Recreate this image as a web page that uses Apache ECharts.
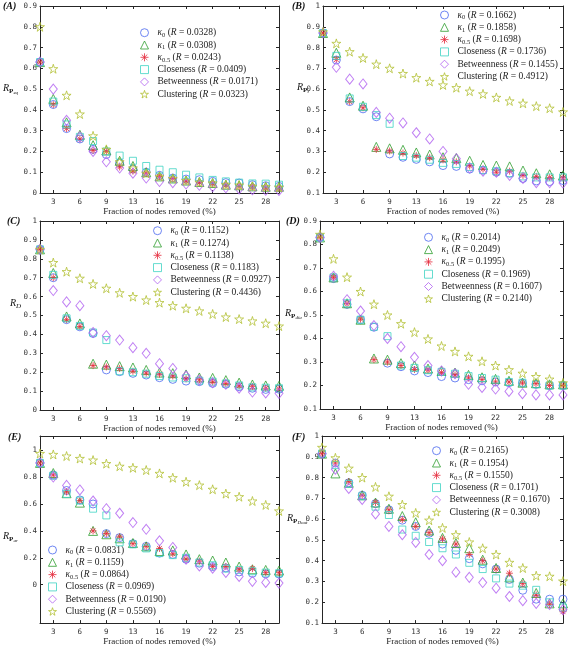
<!DOCTYPE html>
<html><head><meta charset="utf-8">
<script src="https://cdn.jsdelivr.net/npm/echarts@6/dist/echarts.min.js"></script>
<style>html,body{margin:0;padding:0;background:#fff}#c{width:568px;height:647px}</style>
</head><body><div id="c"></div>
<script>
// ---- data ----
const xFractions = [1.58, 3.16, 4.74, 6.32, 7.89, 9.47, 11.05, 12.63, 14.21, 15.79, 17.37, 18.95, 20.53, 22.11, 23.68, 25.26, 26.84, 28.42, 30.00];
const xTickValues = [3.16, 6.32, 9.47, 12.63, 15.79, 18.95, 22.11, 25.26, 28.42];
const xTickLabels = ['3', '6', '9', '13', '16', '19', '22', '25', '28'];

const seriesKeys = ['k0', 'k1', 'k05', 'clo', 'btw', 'clu'];

// Panel A
const A_k0  = [0.63,0.426,0.31,0.26,0.21,0.185,0.145,0.115,0.10,0.085,0.072,0.067,0.064,0.056,0.05,0.048,0.04,0.035,0.032];
const A_k1  = [0.63,0.453,0.34,0.28,0.23,0.205,0.155,0.13,0.10,0.08,0.07,0.06,0.053,0.048,0.04,0.037,0.032,0.03,0.03];
const A_k05 = [0.63,0.425,0.31,0.26,0.205,0.20,0.125,0.105,0.095,0.08,0.07,0.057,0.05,0.045,0.038,0.032,0.03,0.025,0.022];
const A_clo = [0.63,0.44,0.33,0.27,0.25,0.20,0.18,0.155,0.13,0.112,0.10,0.088,0.075,0.063,0.056,0.05,0.046,0.045,0.04];
const A_btw = [0.63,0.50,0.35,0.27,0.20,0.15,0.12,0.095,0.072,0.055,0.05,0.043,0.037,0.03,0.025,0.02,0.016,0.013,0.012];
const A_clu = [0.80,0.598,0.47,0.38,0.275,0.21,0.15,0.12,0.095,0.08,0.07,0.06,0.052,0.048,0.04,0.038,0.032,0.03,0.028];
const A_R = [0.0328, 0.0308, 0.0243, 0.0409, 0.0171, 0.0323];
const A_yTicks = [0, 0.1, 0.2, 0.3, 0.4, 0.5, 0.6, 0.7, 0.8, 0.9];

// Panel B
const B_k0  = [0.87,0.74,0.54,0.505,0.467,0.288,0.272,0.262,0.25,0.232,0.228,0.215,0.21,0.20,0.195,0.17,0.158,0.155,0.16];
const B_k1  = [0.87,0.775,0.56,0.52,0.322,0.315,0.308,0.295,0.285,0.272,0.268,0.255,0.235,0.232,0.228,0.208,0.195,0.19,0.185];
const B_k05 = [0.87,0.742,0.54,0.51,0.31,0.302,0.292,0.28,0.27,0.26,0.25,0.23,0.215,0.20,0.205,0.185,0.18,0.175,0.172];
const B_clo = [0.87,0.76,0.555,0.515,0.475,0.433,0.278,0.27,0.26,0.245,0.24,0.225,0.21,0.205,0.195,0.18,0.175,0.175,0.175];
const B_btw = [0.87,0.705,0.648,0.625,0.488,0.46,0.437,0.39,0.36,0.30,0.265,0.22,0.205,0.20,0.185,0.17,0.15,0.15,0.148];
const B_clu = [0.875,0.82,0.78,0.75,0.72,0.70,0.675,0.655,0.637,0.62,0.607,0.59,0.577,0.56,0.543,0.532,0.518,0.508,0.49];
const B_R = [0.1662, 0.1858, 0.1698, 0.1736, 0.1455, 0.4912];
const B_yTicks = [0.1, 0.2, 0.3, 0.4, 0.5, 0.6, 0.7, 0.8, 0.9, 1];

// Panel C
const C_k0  = [0.85,0.70,0.478,0.44,0.405,0.212,0.203,0.194,0.185,0.171,0.162,0.153,0.15,0.141,0.136,0.123,0.115,0.109,0.11];
const C_k1  = [0.85,0.725,0.495,0.458,0.245,0.24,0.232,0.225,0.212,0.198,0.195,0.188,0.172,0.17,0.158,0.145,0.135,0.13,0.128];
const C_k05 = [0.85,0.70,0.478,0.442,0.235,0.228,0.22,0.205,0.195,0.19,0.18,0.165,0.16,0.148,0.14,0.128,0.125,0.115,0.112];
const C_clo = [0.85,0.715,0.485,0.445,0.41,0.37,0.205,0.20,0.192,0.18,0.172,0.168,0.155,0.15,0.14,0.13,0.12,0.118,0.115];
const C_btw = [0.85,0.632,0.572,0.552,0.41,0.393,0.37,0.33,0.30,0.245,0.22,0.18,0.159,0.145,0.136,0.115,0.095,0.09,0.088];
const C_clu = [0.85,0.78,0.732,0.697,0.667,0.644,0.62,0.60,0.582,0.568,0.552,0.538,0.524,0.508,0.492,0.481,0.471,0.459,0.444];
const C_R = [0.1152, 0.1274, 0.1138, 0.1183, 0.0927, 0.4436];
const C_yTicks = [0, 0.1, 0.2, 0.3, 0.4, 0.5, 0.6, 0.7, 0.8, 0.9, 1];

// Panel D
const D_k0  = [0.83,0.655,0.545,0.48,0.448,0.295,0.28,0.262,0.255,0.238,0.232,0.225,0.22,0.215,0.212,0.21,0.205,0.20,0.20];
const D_k1  = [0.83,0.66,0.55,0.48,0.315,0.31,0.295,0.285,0.272,0.262,0.255,0.245,0.235,0.228,0.22,0.212,0.21,0.205,0.205];
const D_k05 = [0.83,0.66,0.548,0.482,0.31,0.30,0.285,0.268,0.265,0.255,0.245,0.232,0.225,0.215,0.215,0.21,0.208,0.20,0.20];
const D_clo = [0.83,0.66,0.55,0.48,0.45,0.41,0.285,0.275,0.265,0.258,0.25,0.24,0.232,0.225,0.215,0.212,0.205,0.20,0.20];
const D_btw = [0.83,0.665,0.565,0.517,0.455,0.40,0.365,0.32,0.285,0.262,0.25,0.205,0.192,0.185,0.175,0.165,0.16,0.16,0.16];
const D_clu = [0.843,0.739,0.661,0.60,0.546,0.50,0.463,0.427,0.398,0.368,0.345,0.324,0.303,0.285,0.267,0.252,0.238,0.227,0.211];
const D_R = [0.2014, 0.2049, 0.1995, 0.1969, 0.1607, 0.2140];
const D_yTicks = [0.1, 0.2, 0.3, 0.4, 0.5, 0.6, 0.7, 0.8, 0.9];

// Panel E
const E_k0  = [0.905,0.815,0.70,0.63,0.60,0.38,0.35,0.305,0.285,0.235,0.225,0.19,0.16,0.135,0.125,0.095,0.085,0.08,0.08];
const E_k1  = [0.905,0.83,0.68,0.61,0.40,0.375,0.345,0.31,0.285,0.25,0.255,0.225,0.19,0.18,0.165,0.135,0.115,0.11,0.105];
const E_k05 = [0.905,0.815,0.69,0.625,0.40,0.38,0.355,0.305,0.285,0.27,0.23,0.19,0.175,0.135,0.135,0.115,0.12,0.09,0.09];
const E_clo = [0.905,0.81,0.675,0.625,0.565,0.515,0.315,0.30,0.27,0.235,0.22,0.20,0.165,0.145,0.12,0.11,0.10,0.09,0.085];
const E_btw = [0.905,0.80,0.738,0.704,0.622,0.565,0.531,0.462,0.412,0.326,0.277,0.19,0.14,0.123,0.091,0.062,0.025,0.017,0.012];
const E_clu = [0.975,0.968,0.956,0.938,0.926,0.90,0.88,0.869,0.852,0.827,0.795,0.765,0.74,0.709,0.677,0.654,0.622,0.593,0.548];
const E_R = [0.0831, 0.1159, 0.0864, 0.0969, 0.0190, 0.5569];
const E_yTicks = [0, 0.2, 0.4, 0.6, 0.8, 1];

// Panel F
const F_k0  = [0.915,0.87,0.775,0.715,0.675,0.645,0.595,0.565,0.532,0.48,0.45,0.41,0.385,0.36,0.31,0.258,0.215,0.215,0.215];
const F_k1  = [0.915,0.82,0.775,0.715,0.68,0.65,0.615,0.585,0.545,0.51,0.485,0.46,0.405,0.365,0.32,0.295,0.245,0.195,0.195];
const F_k05 = [0.915,0.87,0.78,0.715,0.68,0.645,0.598,0.565,0.535,0.505,0.48,0.43,0.40,0.36,0.34,0.29,0.235,0.19,0.155];
const F_clo = [0.915,0.86,0.77,0.71,0.66,0.62,0.55,0.52,0.49,0.46,0.43,0.39,0.36,0.315,0.29,0.28,0.26,0.20,0.175];
const F_btw = [0.915,0.84,0.748,0.695,0.625,0.565,0.525,0.488,0.43,0.40,0.345,0.32,0.295,0.268,0.228,0.208,0.195,0.19,0.165];
const F_clu = [0.945,0.895,0.845,0.80,0.755,0.71,0.67,0.63,0.595,0.558,0.525,0.49,0.46,0.43,0.392,0.365,0.328,0.325,0.302];
const F_R = [0.2165, 0.1954, 0.1550, 0.1701, 0.1670, 0.3008];
const F_yTicks = [0.1, 0.2, 0.3, 0.4, 0.5, 0.6, 0.7, 0.8, 0.9, 1];

// ---- styles / layout ----
const STAR = 'path://M0,-1L0.2245,-0.309L0.951,-0.309L0.3633,0.118L0.588,0.809L0,0.382L-0.588,0.809L-0.3633,0.118L-0.951,-0.309L-0.2245,-0.309Z';
const ASTER = 'path://M0,-1L0,1M-1,0L1,0M-0.7,-0.7L0.7,0.7M-0.7,0.7L0.7,-0.7';
const styles = {
  k0:  {symbol:'circle',  color:'#4a68f0', size:8},
  k1:  {symbol:'triangle',color:'#2f9f2f', size:9},
  k05: {symbol:ASTER,     color:'#e52a3c', size:7},
  clo: {symbol:'rect',    color:'#3fd3c3', size:7},
  btw: {symbol:'diamond', color:'#b060f0', size:[8,10]},
  clu: {symbol:STAR,      color:'#b3c035', size:9}
};
const serif = 'Liberation Serif';
const mono = 'DejaVu Sans Mono';

const panels = [
  {id:'A', g:[40,6,239,187],    y:[0,0.9],   ticks:A_yTicks, data:[A_k0,A_k1,A_k05,A_clo,A_btw,A_clu], R:A_R, leg:[144,32.7], lab:[3,6], yl:[3,90], sub:'{p|P}{s2|eq}'},
  {id:'B', g:[323,6,240,187],   y:[0.1,1],   ticks:B_yTicks, data:[B_k0,B_k1,B_k05,B_clo,B_btw,B_clu], R:B_R, leg:[444,15], lab:[292,6], yl:[297,89], sub:'{p|P}{s2|t}'},
  {id:'C', g:[40,221,239,189],  y:[0,1],     ticks:C_yTicks, data:[C_k0,C_k1,C_k05,C_clo,C_btw,C_clu], R:C_R, leg:[157,230.7], lab:[7,221], yl:[10,305], sub:'{d|D}'},
  {id:'D', g:[320,221,243,188], y:[0.1,0.9], ticks:D_yTicks, data:[D_k0,D_k1,D_k05,D_clo,D_btw,D_clu], R:D_R, leg:[428,237.3], lab:[286,221], yl:[285,315], sub:'{p|P}{s2|dia}'},
  {id:'E', g:[40,436,239,188],  y:[-0.285,1.105], ticks:E_yTicks, data:[E_k0,E_k1,E_k05,E_clo,E_btw,E_clu], R:E_R, leg:[52,550], lab:[8,437], yl:[3,538], sub:'{p|P}{s2|ar}'},
  {id:'F', g:[322,436,241,190], y:[0.1,1],   ticks:F_yTicks, data:[F_k0,F_k1,F_k05,F_clo,F_btw,F_clu], R:F_R, leg:[436,450.7], lab:[292,437], yl:[287,520], sub:'{p|P}{s2|Dout}'}
];

const nameOf = (pid, key) => pid + '|' + key;
const Rmap = {};
function legendText(name) {
  const key = name.split('|')[1];
  const r = Rmap[name].toFixed(4);
  const tail = ' ({i|R} = ' + r + ')';
  if (key === 'k0') return '{g|κ}{s|0}' + tail;
  if (key === 'k1') return '{g|κ}{s|1}' + tail;
  if (key === 'k05') return '{g|κ}{s|0.5}' + tail;
  if (key === 'clo') return 'Closeness' + tail;
  if (key === 'btw') return 'Betweenness' + tail;
  return 'Clustering' + tail;
}
const legRich = {
  g: {fontFamily:serif, fontStyle:'italic', fontSize:9.5, color:'#222'},
  s: {fontFamily:serif, fontSize:6.5, color:'#222', verticalAlign:'bottom', lineHeight:12},
  i: {fontFamily:serif, fontStyle:'italic', fontSize:9.5, color:'#222'}
};

const option = {animation:false, backgroundColor:'#fff', grid:[], xAxis:[], yAxis:[], series:[], legend:[], graphic:[]};
const axisColor = '#262626';

panels.forEach((p, i) => {
  option.grid.push({left:p.g[0], top:p.g[1], width:p.g[2], height:p.g[3]});
  option.xAxis.push({
    gridIndex:i, type:'value', min:xFractions[0], max:xFractions[xFractions.length-1], position:'bottom',
    axisLine:{onZero:false, lineStyle:{color:axisColor, width:1}},
    axisTick:{inside:true, length:3, customValues:xTickValues, lineStyle:{color:axisColor}},
    axisLabel:{customValues:xTickValues, formatter:(v) => xTickLabels[xTickValues.indexOf(v)] ?? String(Math.round(v)),
      fontFamily:mono, fontSize:7.5, color:'#333', margin:5},
    splitLine:{show:false},
    name:'Fraction of nodes removed (%)', nameLocation:'middle', nameGap:13,
    nameTextStyle:{fontFamily:serif, fontSize:9, color:'#222'}
  });
  option.xAxis.push({
    gridIndex:i, type:'value', min:xFractions[0], max:xFractions[xFractions.length-1], position:'top',
    axisLine:{onZero:false, lineStyle:{color:axisColor, width:1}},
    axisTick:{inside:true, length:3, customValues:xTickValues, lineStyle:{color:axisColor}},
    axisLabel:{show:false}, splitLine:{show:false}
  });
  option.yAxis.push({
    gridIndex:i, type:'value', min:p.y[0], max:p.y[1], position:'left',
    axisLine:{onZero:false, lineStyle:{color:axisColor, width:1}},
    axisTick:{inside:true, length:3, customValues:p.ticks, lineStyle:{color:axisColor}},
    axisLabel:{customValues:p.ticks, formatter:(v)=>String(v), fontFamily:mono, fontSize:7.5, color:'#333', margin:3},
    splitLine:{show:false}
  });
  option.yAxis.push({
    gridIndex:i, type:'value', min:p.y[0], max:p.y[1], position:'right',
    axisLine:{onZero:false, lineStyle:{color:axisColor, width:1}},
    axisTick:{inside:true, length:3, customValues:p.ticks, lineStyle:{color:axisColor}},
    axisLabel:{show:false}, splitLine:{show:false}
  });
  const legData = [];
  seriesKeys.forEach((key, j) => {
    const st = styles[key];
    const nm = nameOf(p.id, key);
    Rmap[nm] = p.R[j];
    legData.push({name:nm, icon:st.symbol,
      itemStyle:{color:'rgba(0,0,0,0)', borderColor:st.color, borderWidth:1}});
    option.series.push({
      type:'scatter', name:nm, xAxisIndex:2*i, yAxisIndex:2*i,
      symbol:st.symbol, symbolSize:st.size,
      itemStyle:{color:'rgba(0,0,0,0)', borderColor:st.color, borderWidth:1},
      data:p.data[j].map((v, k) => [xFractions[k], v]),
      z: 2 + j
    });
  });
  option.legend.push({
    data:legData, orient:'vertical', left:p.leg[0]-4, top:p.leg[1]-6,
    itemWidth:8, itemHeight:8, itemGap:0.3, padding:0, selectedMode:false,
    symbolKeepAspect:true,
    formatter:legendText,
    textStyle:{fontFamily:serif, fontSize:9.5, color:'#222', lineHeight:12, padding:[0,0,0,4], rich:legRich}
  });
  option.graphic.push({type:'text', left:p.lab[0], top:p.lab[1]-5,
    style:{text:'(' + p.id + ')', font:'bold italic 10px "' + serif + '"', fill:'#111'}});
  option.graphic.push({type:'text', left:p.yl[0], top:p.yl[1]-7,
    style:{text:'{r|R}' + p.sub, rich:{
      r:{fontFamily:serif, fontStyle:'italic', fontSize:10, fill:'#111', lineHeight:14},
      p:{fontFamily:serif, fontWeight:'bold', fontSize:7, fill:'#111', verticalAlign:'bottom', lineHeight:14},
      d:{fontFamily:serif, fontStyle:'italic', fontSize:7, fill:'#111', verticalAlign:'bottom', lineHeight:14},
      s2:{fontFamily:serif, fontStyle:'italic', fontSize:5, fill:'#111', verticalAlign:'bottom', lineHeight:13}
    }}});
});

const chart = echarts.init(document.getElementById('c'), null, {renderer:'canvas'});
chart.setOption(option);
</script></body></html>
